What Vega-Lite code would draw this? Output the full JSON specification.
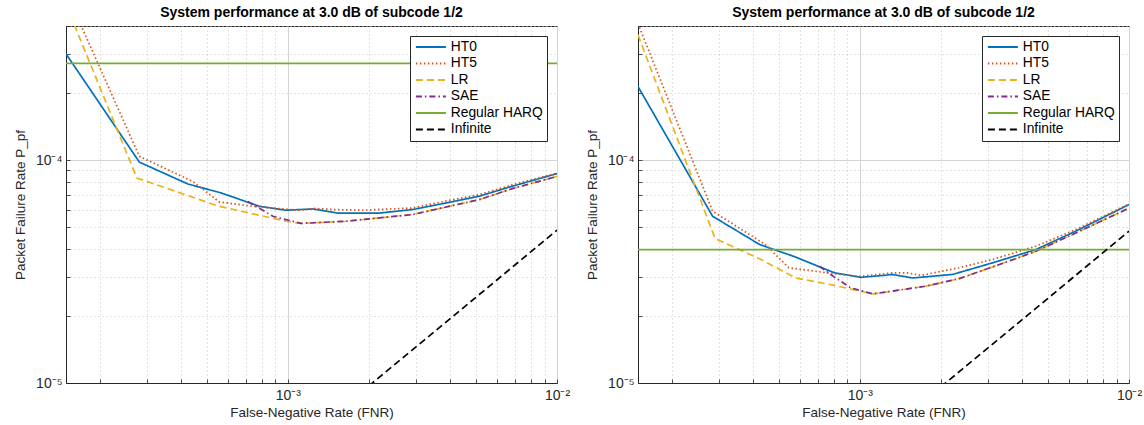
{
  "$schema": "https://vega.github.io/schema/vega-lite/v6.json",
  "padding": {"left": 12, "top": 5, "right": 5, "bottom": 2},
  "bounds": "flush",
  "spacing": 81,
  "background": "white",
  "config": {
    "font": "Liberation Sans",
    "view": {"stroke": "#262626", "strokeWidth": 1},
    "title": {"fontSize": 14, "fontWeight": "bold", "color": "#000000", "offset": -1, "font": "Liberation Sans"},
    "axis": {
      "labelFont": "Liberation Sans", "labelFontSize": 14, "labelColor": "#262626",
      "titleFont": "Liberation Sans", "titleFontSize": 13.5, "titleFontWeight": "normal", "titleColor": "#262626",
      "domainColor": "#262626", "tickColor": "#262626", "tickSize": -4, "tickWidth": 0.8,
      "gridColor": {"condition": {"test": "datum.value == 1e-3 || datum.value == 1e-2 || datum.value == 1e-4 || datum.value == 1e-5", "value": "#d4d4d4"}, "value": "#c4c4c4"},
      "gridDash": {"condition": {"test": "datum.value == 1e-3 || datum.value == 1e-2 || datum.value == 1e-4 || datum.value == 1e-5", "value": []}, "value": [1, 3]},
      "gridWidth": 1, "labelBound": false, "labelFlush": false, "labelOverlap": false
    },
    "legend": {
      "orient": "top-right", "offset": 10, "strokeColor": "#262626", "fillColor": "white",
      "padding": 4, "labelFont": "Liberation Sans", "labelFontSize": 13.8, "labelColor": "#000000",
      "symbolType": "M-1,0H5", "symbolSize": 100, "symbolStrokeWidth": 2, "rowPadding": 1.5, "labelOffset": 23
    }
  },
  "resolve": {
    "scale": {"color": "independent", "strokeDash": "independent"},
    "legend": {"color": "independent", "strokeDash": "independent"}
  },
  "datasets": {
    "left": [
      {"series": "HT0", "fnr": 0.00015, "pf": 0.000300},
      {"series": "HT0", "fnr": 0.000281, "pf": 0.0000980},
      {"series": "HT0", "fnr": 0.000425, "pf": 0.0000782},
      {"series": "HT0", "fnr": 0.000565, "pf": 0.0000713},
      {"series": "HT0", "fnr": 0.000784, "pf": 0.0000621},
      {"series": "HT0", "fnr": 0.000984, "pf": 0.0000596},
      {"series": "HT0", "fnr": 0.00124, "pf": 0.0000604},
      {"series": "HT0", "fnr": 0.00153, "pf": 0.0000579},
      {"series": "HT0", "fnr": 0.00219, "pf": 0.0000579},
      {"series": "HT0", "fnr": 0.0029, "pf": 0.0000600},
      {"series": "HT0", "fnr": 0.00386, "pf": 0.0000642},
      {"series": "HT0", "fnr": 0.00514, "pf": 0.0000689},
      {"series": "HT0", "fnr": 0.00682, "pf": 0.0000764},
      {"series": "HT0", "fnr": 0.01, "pf": 0.0000870},
      {"series": "HT5", "fnr": 0.00015, "pf": 0.000570},
      {"series": "HT5", "fnr": 0.000281, "pf": 0.000104},
      {"series": "HT5", "fnr": 0.000443, "pf": 0.0000803},
      {"series": "HT5", "fnr": 0.000557, "pf": 0.0000649},
      {"series": "HT5", "fnr": 0.000738, "pf": 0.0000621},
      {"series": "HT5", "fnr": 0.0011, "pf": 0.0000596},
      {"series": "HT5", "fnr": 0.00126, "pf": 0.0000607},
      {"series": "HT5", "fnr": 0.0015, "pf": 0.0000600},
      {"series": "HT5", "fnr": 0.00189, "pf": 0.0000596},
      {"series": "HT5", "fnr": 0.0029, "pf": 0.0000610},
      {"series": "HT5", "fnr": 0.00386, "pf": 0.0000655},
      {"series": "HT5", "fnr": 0.00514, "pf": 0.0000700},
      {"series": "HT5", "fnr": 0.00682, "pf": 0.0000775},
      {"series": "HT5", "fnr": 0.01, "pf": 0.0000875},
      {"series": "LR", "fnr": 0.00015, "pf": 0.000500},
      {"series": "LR", "fnr": 0.000275, "pf": 0.0000832},
      {"series": "LR", "fnr": 0.00055, "pf": 0.0000623},
      {"series": "LR", "fnr": 0.000984, "pf": 0.0000532},
      {"series": "LR", "fnr": 0.00112, "pf": 0.0000520},
      {"series": "LR", "fnr": 0.00164, "pf": 0.0000532},
      {"series": "LR", "fnr": 0.0029, "pf": 0.0000570},
      {"series": "LR", "fnr": 0.00514, "pf": 0.0000665},
      {"series": "LR", "fnr": 0.00682, "pf": 0.0000745},
      {"series": "LR", "fnr": 0.01, "pf": 0.0000845},
      {"series": "SAE", "fnr": 0.00071, "pf": 0.0000653},
      {"series": "SAE", "fnr": 0.00088, "pf": 0.0000560},
      {"series": "SAE", "fnr": 0.00112, "pf": 0.0000520},
      {"series": "SAE", "fnr": 0.00164, "pf": 0.0000532},
      {"series": "SAE", "fnr": 0.0029, "pf": 0.0000570},
      {"series": "SAE", "fnr": 0.00514, "pf": 0.0000665},
      {"series": "SAE", "fnr": 0.00682, "pf": 0.0000745},
      {"series": "SAE", "fnr": 0.01, "pf": 0.0000845},
      {"series": "Regular HARQ", "fnr": 0.00015, "pf": 0.000272},
      {"series": "Regular HARQ", "fnr": 0.01, "pf": 0.000272},
      {"series": "Infinite", "fnr": 0.002, "pf": 0.0000097},
      {"series": "Infinite", "fnr": 0.01, "pf": 0.0000485}
    ],
    "right": [
      {"series": "HT0", "fnr": 0.00015, "pf": 0.000214},
      {"series": "HT0", "fnr": 0.000284, "pf": 0.0000560},
      {"series": "HT0", "fnr": 0.000425, "pf": 0.0000418},
      {"series": "HT0", "fnr": 0.000565, "pf": 0.0000371},
      {"series": "HT0", "fnr": 0.000807, "pf": 0.0000312},
      {"series": "HT0", "fnr": 0.00101, "pf": 0.0000298},
      {"series": "HT0", "fnr": 0.00123, "pf": 0.0000304},
      {"series": "HT0", "fnr": 0.00132, "pf": 0.0000307},
      {"series": "HT0", "fnr": 0.00157, "pf": 0.0000296},
      {"series": "HT0", "fnr": 0.00221, "pf": 0.0000307},
      {"series": "HT0", "fnr": 0.00311, "pf": 0.0000346},
      {"series": "HT0", "fnr": 0.00451, "pf": 0.0000397},
      {"series": "HT0", "fnr": 0.00634, "pf": 0.0000480},
      {"series": "HT0", "fnr": 0.01, "pf": 0.0000632},
      {"series": "HT5", "fnr": 0.00015, "pf": 0.000410},
      {"series": "HT5", "fnr": 0.000284, "pf": 0.0000590},
      {"series": "HT5", "fnr": 0.000446, "pf": 0.0000418},
      {"series": "HT5", "fnr": 0.000545, "pf": 0.0000329},
      {"series": "HT5", "fnr": 0.000807, "pf": 0.0000309},
      {"series": "HT5", "fnr": 0.001, "pf": 0.0000301},
      {"series": "HT5", "fnr": 0.00132, "pf": 0.0000312},
      {"series": "HT5", "fnr": 0.0015, "pf": 0.0000312},
      {"series": "HT5", "fnr": 0.00169, "pf": 0.0000304},
      {"series": "HT5", "fnr": 0.00234, "pf": 0.0000329},
      {"series": "HT5", "fnr": 0.00311, "pf": 0.0000358},
      {"series": "HT5", "fnr": 0.00451, "pf": 0.0000411},
      {"series": "HT5", "fnr": 0.00634, "pf": 0.0000488},
      {"series": "HT5", "fnr": 0.01, "pf": 0.0000636},
      {"series": "LR", "fnr": 0.00015, "pf": 0.000365},
      {"series": "LR", "fnr": 0.00029, "pf": 0.0000445},
      {"series": "LR", "fnr": 0.00043, "pf": 0.0000358},
      {"series": "LR", "fnr": 0.000578, "pf": 0.0000296},
      {"series": "LR", "fnr": 0.000807, "pf": 0.0000274},
      {"series": "LR", "fnr": 0.00112, "pf": 0.0000251},
      {"series": "LR", "fnr": 0.00176, "pf": 0.0000272},
      {"series": "LR", "fnr": 0.00234, "pf": 0.0000294},
      {"series": "LR", "fnr": 0.0033, "pf": 0.0000340},
      {"series": "LR", "fnr": 0.00451, "pf": 0.0000390},
      {"series": "LR", "fnr": 0.00634, "pf": 0.0000471},
      {"series": "LR", "fnr": 0.01, "pf": 0.0000609},
      {"series": "SAE", "fnr": 0.000708, "pf": 0.0000334},
      {"series": "SAE", "fnr": 0.000807, "pf": 0.0000298},
      {"series": "SAE", "fnr": 0.000927, "pf": 0.0000267},
      {"series": "SAE", "fnr": 0.00112, "pf": 0.0000251},
      {"series": "SAE", "fnr": 0.00176, "pf": 0.0000272},
      {"series": "SAE", "fnr": 0.00234, "pf": 0.0000294},
      {"series": "SAE", "fnr": 0.0033, "pf": 0.0000340},
      {"series": "SAE", "fnr": 0.00451, "pf": 0.0000390},
      {"series": "SAE", "fnr": 0.00634, "pf": 0.0000471},
      {"series": "SAE", "fnr": 0.01, "pf": 0.0000609},
      {"series": "Regular HARQ", "fnr": 0.00015, "pf": 0.0000397},
      {"series": "Regular HARQ", "fnr": 0.01, "pf": 0.0000397},
      {"series": "Infinite", "fnr": 0.002, "pf": 0.0000096},
      {"series": "Infinite", "fnr": 0.01, "pf": 0.000048}
    ]
  },
  "hconcat": [
    {
      "width": 491, "height": 357,
      "title": "System performance at 3.0 dB of subcode 1/2",
      "data": {"name": "left"},
      "mark": {"type": "line", "clip": true, "strokeWidth": 1.7},
      "encoding": {
        "x": {"field": "fnr", "type": "quantitative", "title": "False-Negative Rate (FNR)",
          "scale": {"type": "log", "domain": [0.00015, 0.01], "nice": false},
          "axis": {"values": [0.0002,0.0003,0.0004,0.0005,0.0006,0.0007,0.0008,0.0009,0.001,0.002,0.003,0.004,0.005,0.006,0.007,0.008,0.009,0.01],
            "labelExpr": "datum.value == 1e-3 ? '10⁻³' : datum.value == 1e-2 ? '10⁻²' : ''", "labelPadding": 9, "titlePadding": 3}},
        "y": {"field": "pf", "type": "quantitative", "title": "Packet Failure Rate P_pf",
          "scale": {"type": "log", "domain": [0.00001, 0.0004], "nice": false},
          "axis": {"values": [0.00001,0.00002,0.00003,0.00004,0.00005,0.00006,0.00007,0.00008,0.00009,0.0001,0.0002,0.0003,0.0004],
            "labelExpr": "datum.value == 1e-4 ? '10⁻⁴' : datum.value == 1e-5 ? '10⁻⁵' : ''", "labelPadding": 8, "titlePadding": 8}},
        "color": {"field": "series", "type": "nominal", "title": null,
          "scale": {"domain": ["HT0","HT5","LR","SAE","Regular HARQ","Infinite"], "range": ["#0072BD","#D95319","#EDB120","#7E2F8E","#77AC30","#000000"]}},
        "strokeDash": {"field": "series", "type": "nominal", "title": null,
          "scale": {"domain": ["HT0","HT5","LR","SAE","Regular HARQ","Infinite"], "range": [[1,0],[1.5,2.5],[7,4],[6,3,1.5,3],[1,0],[7,4]]}}
      }
    },
    {
      "width": 491, "height": 357,
      "title": "System performance at 3.0 dB of subcode 1/2",
      "data": {"name": "right"},
      "mark": {"type": "line", "clip": true, "strokeWidth": 1.7},
      "encoding": {
        "x": {"field": "fnr", "type": "quantitative", "title": "False-Negative Rate (FNR)",
          "scale": {"type": "log", "domain": [0.00015, 0.01], "nice": false},
          "axis": {"values": [0.0002,0.0003,0.0004,0.0005,0.0006,0.0007,0.0008,0.0009,0.001,0.002,0.003,0.004,0.005,0.006,0.007,0.008,0.009,0.01],
            "labelExpr": "datum.value == 1e-3 ? '10⁻³' : datum.value == 1e-2 ? '10⁻²' : ''", "labelPadding": 9, "titlePadding": 3}},
        "y": {"field": "pf", "type": "quantitative", "title": "Packet Failure Rate P_pf",
          "scale": {"type": "log", "domain": [0.00001, 0.0004], "nice": false},
          "axis": {"values": [0.00001,0.00002,0.00003,0.00004,0.00005,0.00006,0.00007,0.00008,0.00009,0.0001,0.0002,0.0003,0.0004],
            "labelExpr": "datum.value == 1e-4 ? '10⁻⁴' : datum.value == 1e-5 ? '10⁻⁵' : ''", "labelPadding": 8, "titlePadding": 8}},
        "color": {"field": "series", "type": "nominal", "title": null,
          "scale": {"domain": ["HT0","HT5","LR","SAE","Regular HARQ","Infinite"], "range": ["#0072BD","#D95319","#EDB120","#7E2F8E","#77AC30","#000000"]}},
        "strokeDash": {"field": "series", "type": "nominal", "title": null,
          "scale": {"domain": ["HT0","HT5","LR","SAE","Regular HARQ","Infinite"], "range": [[1,0],[1.5,2.5],[7,4],[6,3,1.5,3],[1,0],[7,4]]}}
      }
    }
  ]
}
